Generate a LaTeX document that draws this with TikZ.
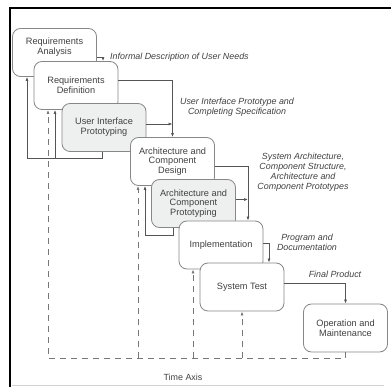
\documentclass[tikz,border=0pt]{standalone}
\usepackage{fontspec}
\setmainfont{Liberation Sans}
\usetikzlibrary{arrows.meta, positioning, calc}
\usepackage{xcolor}
\definecolor{txtgray}{RGB}{64,64,64}
\definecolor{linegray}{RGB}{85,85,85}
\definecolor{boxgray}{RGB}{135,135,135}
\definecolor{protofill}{RGB}{238,240,240}

\begin{document}
\begin{tikzpicture}[x=1pt,y=-1pt,
  phase/.style={rectangle,rounded corners=8pt,draw=boxgray,line width=0.8pt,fill=white,
                minimum width=84pt,minimum height=48pt,inner sep=1pt,align=center,
                text=txtgray,font=\fontsize{9.2}{9.8}\selectfont},
  proto/.style={phase,fill=protofill},
  arr/.style={-{Latex[length=4pt,width=3pt]},linegray,line width=0.7pt},
  dasharr/.style={-{Latex[length=4pt,width=3pt]},linegray!80,line width=0.7pt,
                  dash pattern=on 6pt off 5pt},
  info/.style={text=txtgray,align=center,inner sep=0pt,
               font=\fontsize{8.9}{10}\selectfont\itshape}
]
\useasboundingbox (0,0) rectangle (391,387);

% frame
\draw[line width=2.5pt] (10,387) -- (10,8) -- (391,8);
\draw[gray!35,line width=0.8pt] (12,385) -- (384,385);

% phases
\node[phase] (ra)   at (54.5,52.5)  {};
\node[text=txtgray,align=center,inner sep=0pt,font=\fontsize{9.2}{9.8}\selectfont]
  (ratext) at ([yshift=5pt]ra.center) {Requirements\\Analysis};
\node[phase] (rd)   at (76,85.5)    {Requirements\\Definition};
\node[proto] (uip)  at (104,127.5)  {User Interface\\Prototyping};
\node[phase] (acd)  at (172.5,161.5){Architecture and\\Component\\Design};
\node[proto] (acp)  at (193.5,203.5){Architecture and\\Component\\Prototyping};
\node[phase] (impl) at (221,245)    {Implementation};
\node[phase] (test) at (242,287)    {System Test};
\node[phase] (ops)  at (345.5,328)  {Operation and\\Maintenance};

% results passed on
\draw[arr] ([yshift=-4.5pt]ra.east) -| ([xshift=27pt]rd.north);
\node[info,anchor=west] (l1) at (110,57) {Informal Description of User Needs};

\draw[arr] ([yshift=5.5pt]rd.east) -| (acd.north);
\coordinate (uiout) at ([yshift=3.5pt]uip.east);
\draw[arr] (uiout) -- (uiout -| acd.north);
\node[info] (l2) at (237,107) {User Interface Prototype and\\Completing Specification};

\coordinate (implin) at ([xshift=27pt]impl.north);
\draw[arr] ([yshift=-4.5pt]acd.east) -| (implin);
\coordinate (acpout) at ([yshift=4pt]acp.east);
\draw[arr] (acpout) -- (acpout -| implin);
\node[info] (l3) at (303,172) {System Architecture,\\Component Structure,\\Architecture and\\Component Prototypes};

\draw[arr] ([yshift=2pt]impl.east) -| ([xshift=27pt]test.north);
\node[info] (l4) at (307,242) {Program and\\Documentation};

\draw[arr] ([yshift=4pt]test.east) -| (ops.north);
\node[info] (l5) at (335,274) {Final Product};

% feedback from the prototypes
\coordinate (uiback) at ([xshift=-2pt,yshift=-6.5pt]uip.south);
\coordinate (rdin) at ([xshift=-21pt]rd.south);
\draw[arr] ([xshift=-2pt]uip.south) -- (uiback) -| ([xshift=-27.5pt]ra.south);
\draw[arr] (rdin |- uiback) -- (rdin);

\coordinate (acpback) at ([xshift=-20.5pt,yshift=-7.5pt]acp.south);
\draw[arr] ([xshift=-20.5pt]acp.south) -- (acpback) -| ([xshift=-27.5pt]acd.south);

% time axis
\coordinate (taxis) at ([yshift=-6pt]ops.south);
\coordinate (drd) at ([xshift=-28pt]rd.south);
\coordinate (dacd) at ([xshift=-34.5pt]acd.south);
\coordinate (dimpl) at ([xshift=-28pt]impl.south);
\draw[dasharr] (ops.south) |- (drd |- taxis) -- (drd);
\draw[dasharr] (dacd |- taxis) -- (dacd);
\draw[dasharr] (dimpl |- taxis) -- (dimpl);
\draw[dasharr] (test.south |- taxis) -- (test.south);
\node[text=txtgray,font=\fontsize{8.9}{10}\selectfont] (time) at (183,377) {Time Axis};
\end{tikzpicture}
\end{document}
